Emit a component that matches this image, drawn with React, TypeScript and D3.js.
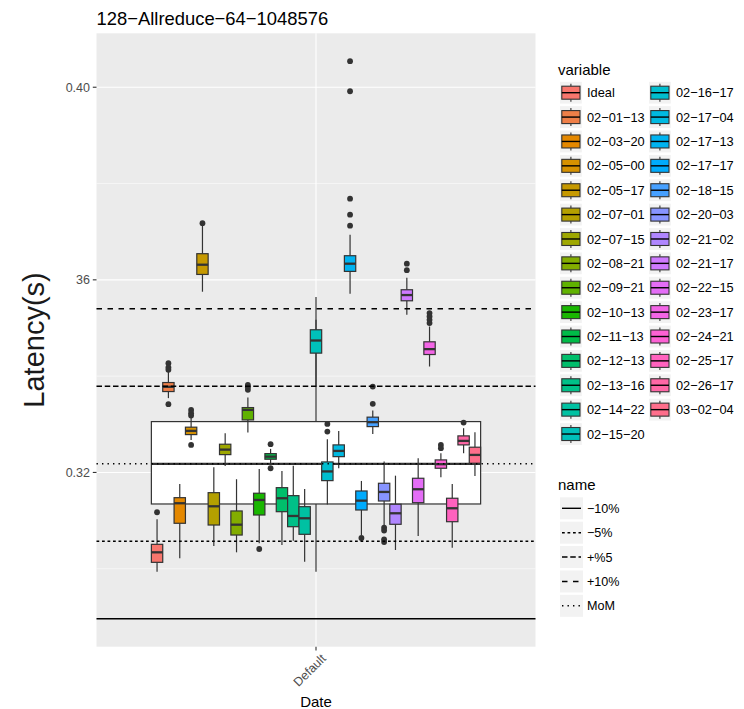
import React from "react";
import * as d3 from "d3";

// ---------------- data ----------------
const variables = [
  "Ideal", "02-01-13", "02-03-20", "02-05-00", "02-05-17", "02-07-01", "02-07-15",
  "02-08-21", "02-09-21", "02-10-13", "02-11-13", "02-12-13", "02-13-16", "02-14-22",
  "02-15-20", "02-16-17", "02-17-04", "02-17-13", "02-17-17", "02-18-15", "02-20-03",
  "02-21-02", "02-21-17", "02-22-15", "02-23-17", "02-24-21", "02-25-17", "02-26-17",
  "03-02-04",
];
const whiskerLow = [
  0.29938, 0.33543, 0.30216, 0.32676, 0.35753, 0.30472, 0.32135,
  0.30341, 0.32827, 0.30528, 0.32177, 0.30493, 0.30582, 0.30146,
  0.3380, 0.31335, 0.32087, 0.35711, 0.3070, 0.3280, 0.30908,
  0.30389, 0.35274, 0.3068, 0.3420, 0.3190, 0.30437, 0.32399,
  0.31927,
];
const q1 = [
  0.30133, 0.3368, 0.30944, 0.32786, 0.36112, 0.30908, 0.3237,
  0.3070, 0.33091, 0.31116, 0.32274, 0.31185, 0.30873, 0.30715,
  0.34478, 0.3183, 0.32328, 0.36175, 0.3122, 0.32952, 0.31407,
  0.30923, 0.35565, 0.31372, 0.34449, 0.32087, 0.30977, 0.32572,
  0.32191,
];
const median = [
  0.30341, 0.33778, 0.3136, 0.32863, 0.36314, 0.31297, 0.32474,
  0.30915, 0.33299, 0.31428, 0.32328, 0.31464, 0.31096, 0.31048,
  0.3474, 0.32021, 0.32447, 0.36335, 0.31414, 0.33044, 0.31595,
  0.31152, 0.35684, 0.31651, 0.34561, 0.32171, 0.31256, 0.32655,
  0.32364,
];
const q3 = [
  0.30507, 0.33867, 0.31476, 0.3294, 0.36543, 0.3158, 0.32586,
  0.3120, 0.33347, 0.31568, 0.32391, 0.31684, 0.31518, 0.31289,
  0.34963, 0.32218, 0.32572, 0.36501, 0.31615, 0.33148, 0.31775,
  0.31339, 0.35794, 0.31879, 0.34713, 0.3226, 0.31464, 0.32759,
  0.32524,
];
const whiskerHigh = [
  0.31027, 0.3411, 0.31761, 0.33148, 0.37125, 0.32108, 0.32815,
  0.31859, 0.33555, 0.32073, 0.32489, 0.32031, 0.32141, 0.31657,
  0.3517, 0.3269, 0.32863, 0.36938, 0.31823, 0.33285, 0.32225,
  0.31933, 0.36044, 0.32295, 0.35031, 0.32399, 0.31761, 0.32919,
  0.32836,
];
const outliers: number[][] = [
  [0.31173],
  [0.3427, 0.34179, 0.34131, 0.33418],
  [],
  [0.33299, 0.33231, 0.33181, 0.32572],
  [0.37177],
  [],
  [],
  [],
  [0.33819, 0.33771, 0.33715],
  [0.3041],
  [0.32586, 0.32087],
  [],
  [],
  [],
  [],
  [0.33008, 0.32848],
  [],
  [0.40541, 0.39917, 0.37686, 0.37353, 0.37125],
  [0.30638],
  [0.33424, 0.33784],
  [0.30852, 0.30794, 0.30611, 0.30555],
  [],
  [0.36335, 0.362],
  [],
  [0.3531, 0.35239, 0.3517, 0.35102],
  [0.32572, 0.32503],
  [],
  [0.33035],
  [],
];
// overall box (all runs): low whisker, q1, median, q3, high whisker
const overallBox = [0.29938, 0.31345, 0.32177, 0.33056, 0.35642];

const lineNames = ["\u221210%", "\u22125%", "+%5", "+10%", "MoM"];
const lineValues = [0.2896, 0.3057, 0.3379, 0.354, 0.3218];
const lineDash = ["", "2.75,2.75", "5.5,2.75", "5.5,5.5", "1.4,4.1"];

const xCategories = ["Default"];
const yTicks = [0.32, 0.36, 0.4];
const yTickLabels = ["0.32", "36", "0.40"];
const yMinorTicks = [0.3, 0.34, 0.38];

// ---------------- helpers ----------------
function hclHex(h: number, c: number, l: number): string {
  const WHITE_Y = 100.0, WHITE_u = 0.1978398, WHITE_v = 0.4683363;
  const hr = (h * Math.PI) / 180;
  const L = l, U = c * Math.cos(hr), V = c * Math.sin(hr);
  const Y = WHITE_Y * (L > 7.999592 ? Math.pow((L + 16) / 116, 3) : L / 903.3);
  const u = U / (13 * L) + WHITE_u;
  const v = V / (13 * L) + WHITE_v;
  const X = (9.0 * Y * u) / (4 * v);
  const Z = -X / 3 - 5 * Y + (3 * Y) / v;
  const g = (t: number) => (t > 0.00304 ? 1.055 * Math.pow(t, 1 / 2.4) - 0.055 : 12.92 * t);
  const cl = (t: number) => Math.max(0, Math.min(1, t));
  const R = cl(g((3.240479 * X - 1.53715 * Y - 0.498535 * Z) / WHITE_Y));
  const G = cl(g((-0.969256 * X + 1.875992 * Y + 0.041556 * Z) / WHITE_Y));
  const B = cl(g((0.055648 * X - 0.204043 * Y + 1.057311 * Z) / WHITE_Y));
  return d3.rgb(R * 255, G * 255, B * 255).formatHex();
}
const hues = variables.map((_, i) => 15 + (i * 360) / variables.length);
const palette = hues.map((h) => hclHex(h, 100, 65));
const color = d3.scaleOrdinal<string, string>().domain(variables).range(palette);

// ---------------- layout ----------------
const W = 744, H = 709;
const P = { left: 96.5, right: 535.5, top: 33.3, bottom: 646.7 };
const FONT = "'Liberation Sans', Arial, Helvetica, sans-serif";
const EDGE = "#333333";

const allVals = [
  ...whiskerLow, ...whiskerHigh, ...outliers.flat(), ...lineValues, ...overallBox,
];
const [vmin, vmax] = d3.extent(allVals) as [number, number];
const pad = (vmax - vmin) * 0.05;
const y = d3.scaleLinear().domain([vmin - pad, vmax + pad]).range([P.bottom, P.top]);
const xc = d3.scaleLinear().domain([0.4, 1.6]).range([P.left, P.right]);
const dodge = d3
  .scaleBand<string>()
  .domain(variables)
  .range([xc(1 - 0.45), xc(1 + 0.45)])
  .padding(0);

export default function App() {
  const bw = dodge.bandwidth();
  const cx0 = xc(1);
  const rowPitch = 24.38;
  const varRow0 = 92.7;
  const nameRow0 = 508.3;
  const col1Rows = 15;

  return (
    <svg
      width={W}
      height={H}
      style={{ position: "absolute", left: 0, top: 0, background: "#fff" }}
      fontFamily={FONT}
    >
      {/* title */}
      <text x={P.left} y={25} fontSize={18.4} fill="#000">
        128{"\u2212"}Allreduce{"\u2212"}64{"\u2212"}1048576
      </text>

      {/* panel */}
      <rect x={P.left} y={P.top} width={P.right - P.left} height={P.bottom - P.top} fill="#ebebeb" />
      {yMinorTicks.map((t) => (
        <line key={"mi" + t} x1={P.left} x2={P.right} y1={y(t)} y2={y(t)} stroke="#fff" strokeWidth={0.55} />
      ))}
      {yTicks.map((t) => (
        <line key={"ma" + t} x1={P.left} x2={P.right} y1={y(t)} y2={y(t)} stroke="#fff" strokeWidth={1.1} />
      ))}
      {xCategories.map((c, i) => (
        <line key={c} x1={xc(i + 1)} x2={xc(i + 1)} y1={P.top} y2={P.bottom} stroke="#fff" strokeWidth={1.1} />
      ))}

      {/* overall box */}
      <g stroke={EDGE} strokeWidth={1.2}>
        <line x1={cx0} x2={cx0} y1={y(overallBox[3])} y2={y(overallBox[4])} />
        <line x1={cx0} x2={cx0} y1={y(overallBox[1])} y2={y(overallBox[0])} />
        <rect
          x={dodge.range()[0]}
          width={dodge.range()[1] - dodge.range()[0]}
          y={y(overallBox[3])}
          height={y(overallBox[1]) - y(overallBox[3])}
          fill="#fff"
        />
        <line
          x1={dodge.range()[0]}
          x2={dodge.range()[1]}
          y1={y(overallBox[2])}
          y2={y(overallBox[2])}
          strokeWidth={2.3}
        />
      </g>

      {/* boxes */}
      {variables.map((v, i) => {
        const x0 = dodge(v)!;
        const cx = x0 + bw / 2;
        return (
          <g key={v} stroke={EDGE} strokeWidth={1.2}>
            <line x1={cx} x2={cx} y1={y(q3[i])} y2={y(whiskerHigh[i])} />
            <line x1={cx} x2={cx} y1={y(q1[i])} y2={y(whiskerLow[i])} />
            <rect x={x0} width={bw} y={y(q3[i])} height={y(q1[i]) - y(q3[i])} fill={color(v)} />
            <line x1={x0} x2={x0 + bw} y1={y(median[i])} y2={y(median[i])} strokeWidth={2.3} />
            {outliers[i].map((o, j) => (
              <circle key={j} cx={cx} cy={y(o)} r={2.9} fill={EDGE} stroke="none" />
            ))}
          </g>
        );
      })}

      {/* reference lines */}
      {lineValues.map((lv, i) => (
        <line
          key={lineNames[i]}
          x1={P.left}
          x2={P.right}
          y1={y(lv)}
          y2={y(lv)}
          stroke="#000"
          strokeWidth={1.4}
          strokeDasharray={lineDash[i] || undefined}
        />
      ))}

      {/* y axis */}
      {yTicks.map((t, i) => (
        <g key={"yt" + t}>
          <line x1={P.left - 3.7} x2={P.left} y1={y(t)} y2={y(t)} stroke={EDGE} strokeWidth={1.1} />
          <text x={P.left - 6.5} y={y(t)} dy="0.35em" textAnchor="end" fontSize={12.5} fill="#4d4d4d">
            {yTickLabels[i]}
          </text>
        </g>
      ))}
      <text
        transform={`translate(${44},${(P.top + P.bottom) / 2}) rotate(-90)`}
        textAnchor="middle"
        fontSize={29}
        fill="#1a1a1a"
      >
        Latency(s)
      </text>

      {/* x axis */}
      {xCategories.map((c, i) => (
        <g key={"xt" + c}>
          <line x1={xc(i + 1)} x2={xc(i + 1)} y1={P.bottom} y2={P.bottom + 3.7} stroke={EDGE} strokeWidth={1.1} />
          <text
            transform={`translate(${xc(i + 1) + 4},${P.bottom + 6}) rotate(-45)`}
            textAnchor="end"
            dy="0.75em"
            fontSize={12.5}
            fill="#4d4d4d"
          >
            {c}
          </text>
        </g>
      ))}
      <text x={xc(1)} y={707} textAnchor="middle" fontSize={15} fill="#000">
        Date
      </text>

      {/* legend: variable */}
      <text x={558} y={75} fontSize={15} fill="#000">variable</text>
      {variables.map((v, i) => {
        const col = i < col1Rows ? 0 : 1;
        const row = col === 0 ? i : i - col1Rows;
        const kx = col === 0 ? 560 : 649;
        const cy = varRow0 + row * rowPitch;
        const ks = 21.8;
        const kcx = kx + ks / 2;
        return (
          <g key={"lg" + v}>
            <rect x={kx} y={cy - ks / 2} width={ks} height={ks} fill="#f2f2f2" />
            <g stroke={EDGE} strokeWidth={1.1}>
              <line x1={kcx} x2={kcx} y1={cy - 9} y2={cy - 6.5} />
              <line x1={kcx} x2={kcx} y1={cy + 6.5} y2={cy + 9} />
              <rect x={kx + 1.8} y={cy - 6.5} width={ks - 3.6} height={13} fill={color(v)} />
              <line x1={kx + 1.8} x2={kx + ks - 1.8} y1={cy} y2={cy} stroke="#000" strokeWidth={1.4} />
            </g>
            <text x={kx + 27} y={cy} dy="0.36em" fontSize={12.8} fill="#000">
              {v.replace(/-/g, "\u2212")}
            </text>
          </g>
        );
      })}

      {/* legend: name */}
      <text x={558} y={490} fontSize={15} fill="#000">name</text>
      {lineNames.map((n, i) => {
        const cy = nameRow0 + i * rowPitch;
        const ks = 22;
        return (
          <g key={"ln" + n}>
            <rect x={560} y={cy - ks / 2} width={ks + 1} height={ks} fill="#f2f2f2" />
            <line
              x1={562}
              x2={581}
              y1={cy}
              y2={cy}
              stroke="#000"
              strokeWidth={1.4}
              strokeDasharray={lineDash[i] || undefined}
            />
            <text x={587} y={cy} dy="0.36em" fontSize={12.6} fill="#000">
              {n}
            </text>
          </g>
        );
      })}
    </svg>
  );
}
